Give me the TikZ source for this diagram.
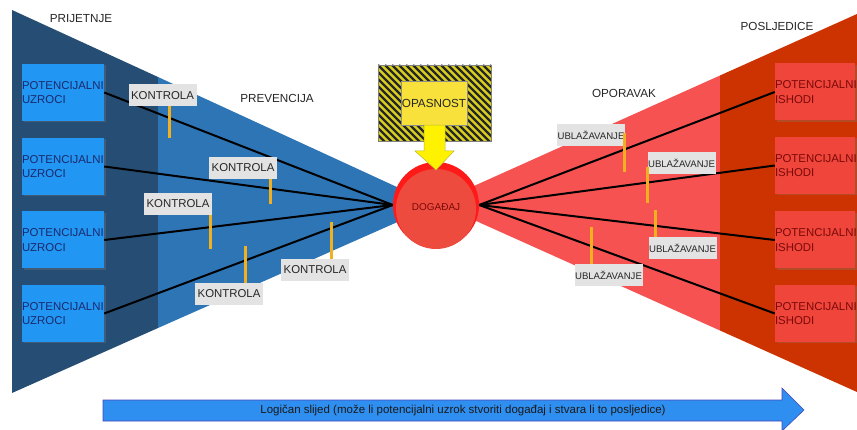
\documentclass[tikz,border=0pt]{standalone}
\usepackage{fontspec}
\setmainfont{Liberation Sans}
\usetikzlibrary{shadows}
\definecolor{dblue}{HTML}{264D73}
\definecolor{lblue}{HTML}{2E75B6}
\definecolor{boxblue}{HTML}{2196F3}
\definecolor{navytxt}{HTML}{1A2A6C}
\definecolor{lred}{HTML}{F65252}
\definecolor{dred}{HTML}{CC3300}
\definecolor{boxred}{HTML}{F0453A}
\definecolor{redtxt}{HTML}{7A0A0A}
\definecolor{labgrey}{HTML}{E3E3E3}
\definecolor{barcol}{HTML}{F0B020}
\definecolor{hatchy}{HTML}{D8CF1E}
\definecolor{opyellow}{HTML}{F7E13A}
\definecolor{evred}{HTML}{FF1A1A}
\definecolor{evin}{HTML}{EE4B3F}
\definecolor{arrowblue}{HTML}{2F8FF0}
\begin{document}
\begin{tikzpicture}[x=1pt,y=-1pt,
  cause/.style={rectangle, fill=boxblue, minimum width=82pt, minimum height=57pt,
    text width=82pt, align=left, inner xsep=0pt, inner ysep=0pt, text=navytxt,
    font=\fontsize{11.4}{14.5}\selectfont,
    drop shadow={opacity=0.3, shadow xshift=1.5pt, shadow yshift=-1.5pt}},
  outcome/.style={cause, fill=boxred, minimum width=80pt, text width=80pt, text=redtxt},
  ctrl/.style={rectangle, fill=labgrey, minimum width=68pt, minimum height=22pt, inner sep=0pt,
    text=black!85, font=\fontsize{11.4}{13}\selectfont},
  mitig/.style={ctrl, minimum width=68pt, minimum height=22pt, font=\fontsize{9.6}{11}\selectfont},
  link/.style={black, line width=2pt},
  bar/.style={barcol, line width=3pt},
  heading/.style={text=black!85, font=\fontsize{11.7}{13}\selectfont, inner sep=0pt}
]
\useasboundingbox (0,0) rectangle (857,430);
% bow-tie regions
\fill[dblue] (12,10) -- (158,77) -- (158,328) -- (12,393) -- cycle;
\fill[lblue] (158,77) -- (436,205) -- (158,328) -- cycle;
\fill[lred] (436,203) -- (720,75.5) -- (720,330.5) -- cycle;
\fill[dred] (720,75.5) -- (857,14) -- (857,392) -- (720,330.5) -- cycle;

% headings
\node[heading] (prij) at (81,19) {PRIJETNJE};
\node[heading] (prev) at (277,98) {PREVENCIJA};
\node[heading] (opor) at (624,93) {OPORAVAK};
\node[heading] (posl) at (777,26) {POSLJEDICE};

% event
\node[circle, fill=evred, minimum size=86pt, inner sep=0pt] (ev) at (436,205) {};
\fill[evin] (436,209) circle (40);
\node[text=redtxt, font=\fontsize{10}{11}\selectfont, inner sep=0pt] (evt) at (436,207) {DOGAĐAJ};

% causes
\node[cause] (c1) at (63,92.5) {POTENCIJALNI\\UZROCI};
\node[cause] (c2) at (63,166.5) {POTENCIJALNI\\UZROCI};
\node[cause] (c3) at (63,240) {POTENCIJALNI\\UZROCI};
\node[cause] (c4) at (63,313.5) {POTENCIJALNI\\UZROCI};

% outcomes
\node[outcome] (o1) at (815,92) {POTENCIJALNI\\ISHODI};
\node[outcome] (o2) at (815,165.5) {POTENCIJALNI\\ISHODI};
\node[outcome] (o3) at (815,240) {POTENCIJALNI\\ISHODI};
\node[outcome] (o4) at (815,313.5) {POTENCIJALNI\\ISHODI};

% connectors
\foreach \c in {c1,c2,c3,c4} \draw[link] (\c.east) -- (ev.west);
\foreach \o in {o1,o2,o3,o4} \draw[link] (ev.east) -- (\o.west);

% controls
\node[ctrl] (k1) at (162.5,95.5) {KONTROLA};
\node[ctrl] (k2) at (243,168) {KONTROLA};
\node[ctrl] (k3) at (178,204) {KONTROLA};
\node[ctrl] (k4) at (229,294) {KONTROLA};
\node[ctrl] (k5) at (315,270) {KONTROLA};
\draw[bar] (169,106) -- (169,138);
\draw[bar] (270,179) -- (270,204);
\draw[bar] (210,215) -- (210,249);
\draw[bar] (245,246) -- (245,283);
\draw[bar] (331,222) -- (331,259);

% mitigations
\node[mitig] (u1) at (591,135.5) {UBLAŽAVANJE};
\node[mitig] (u2) at (681.5,163) {UBLAŽAVANJE};
\node[mitig] (u3) at (682.5,248) {UBLAŽAVANJE};
\node[mitig] (u4) at (608.5,275.5) {UBLAŽAVANJE};
\draw[bar] (624,133) -- (624,172);
\draw[bar] (647,167) -- (647,203);
\draw[bar] (655,210) -- (655,237);
\draw[bar] (591,227) -- (591,264);

% hazard
\begin{scope}
  \clip (378,65) rectangle (491,141);
  \fill[hatchy] (378,65) rectangle (491,141);
  \foreach \i in {-84,-77,...,120}
    \draw[black!85, line width=2.2pt] (378+\i,65) -- ++(80,80);
\end{scope}
\draw[black!50, line width=0.6pt] (378,65) rectangle (491,141);
\node[rectangle, fill=opyellow, draw=black!45, line width=0.5pt, minimum width=66pt,
  minimum height=44pt, inner sep=0pt, text=black!85, font=\fontsize{11.7}{13}\selectfont]
  (haz) at (434,103) {OPASNOST};
\draw[fill=yellow, draw=yellow!70!black, line width=0.5pt]
  (haz.south -| 424,0) -- (424,151) -- (415,151) -- (ev.north |- 0,170) -- (454,151)
  -- (445,151) -- (haz.south -| 445,0) -- cycle;

% logical sequence arrow
\draw[fill=arrowblue, draw=blue!45!gray, line width=0.6pt]
  (103,400) -- (782,400) -- (782,388) -- (804,410) -- (782,431) -- (782,421) -- (103,421) -- cycle;
\node[text=black!90, font=\fontsize{11.5}{13}\selectfont, inner sep=0pt] (seq) at (463,410.5)
  {Logičan slijed (može li potencijalni uzrok stvoriti događaj i stvara li to posljedice)};
\end{tikzpicture}
\end{document}
